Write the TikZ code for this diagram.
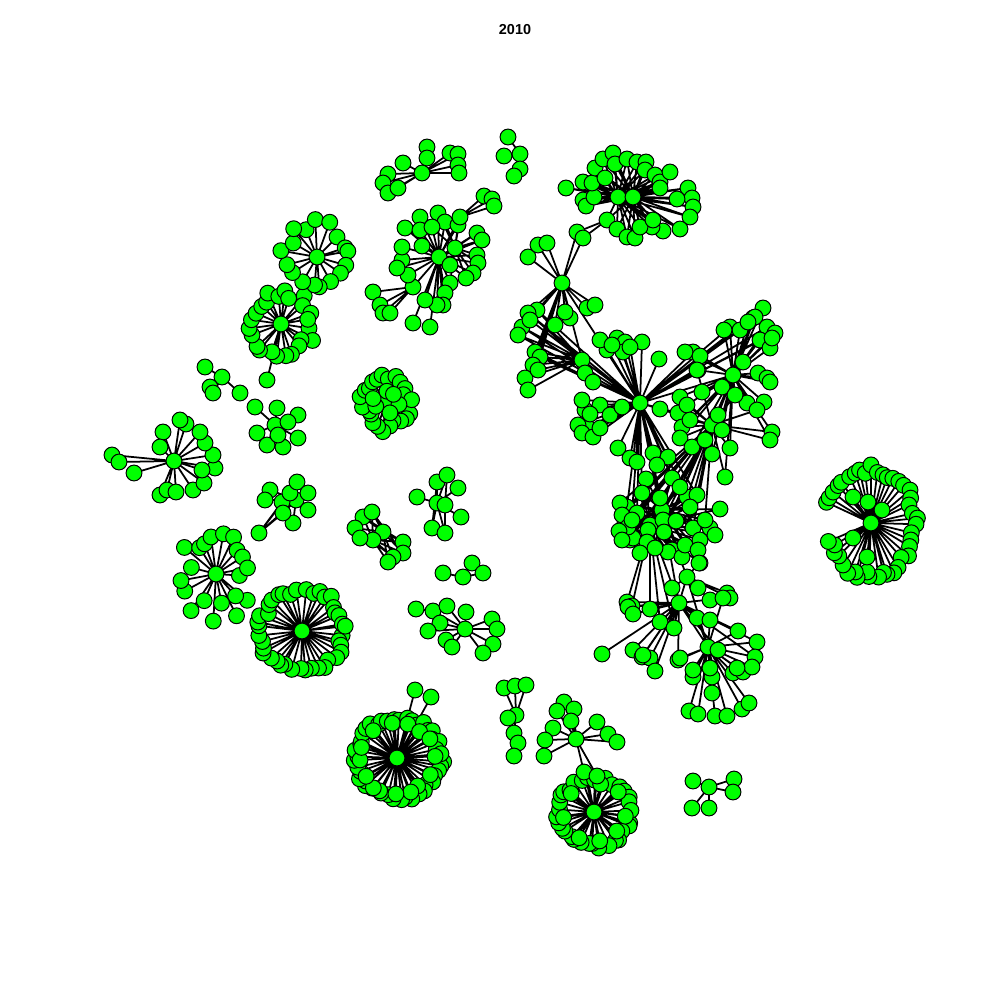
\documentclass[tikz,border=0pt]{standalone}
\usepackage{fontspec}
\newfontfamily\titlefont{Liberation Sans}
\definecolor{vgreen}{RGB}{0,255,0}
\pgfdeclarelayer{back}
\pgfdeclarelayer{bg}
\pgfsetlayers{back,bg,main}
\tikzset{
  vx/.style={circle,draw=black,fill=vgreen,line width=0.28pt,minimum size=4.5pt,inner sep=0pt},
  edge/.style={line width=0.5pt,black}
}
\gdef\edgelist{}
\newcommand\addedge[2]{\xdef\edgelist{\edgelist (#1.center)--(#2.center)}}
\newcommand\mkhub[3]{\node[vx] (#1) at (#2,#3) {};}
\newcommand\mklnk[2]{\addedge{#1}{#2}}
\newcommand\mkfan[3]{%
  \foreach \x/\y [count=\k] in {#3}{%
    \node[vx] (#2-\k) at (\x,\y) {};
    \addedge{#1}{#2-\k}%
  }}
\newcommand\mkfanto[3]{%
  \foreach \k in {1,...,#3}{\addedge{#1}{#2-\k}}}
\newcommand\mkring[8]{% hub, prefix, rx, ry, n, a0, a1, jitter
  \foreach \k in {1,...,#5}{%
    \pgfmathsetmacro\ang{#6+(#7-#6)*(\k-0.5+0.7*(rnd-0.5))/#5}
    \pgfmathsetmacro\fac{1+#8*(rnd-0.5)}
    \pgfmathsetmacro\dx{#3*\fac*cos(\ang)}
    \pgfmathsetmacro\dy{#4*\fac*sin(\ang)}
    \node[vx] (#2-\k) at ([shift={(\dx,\dy)}]#1) {};
    \addedge{#1}{#2-\k}%
  }}
\begin{document}
\begin{tikzpicture}[x=0.01cm,y=-0.01cm]
\pgfmathsetseed{11}
\begin{pgfonlayer}{back}
\fill[white] (0,0) rectangle (1000,1000);
\end{pgfonlayer}
\useasboundingbox (0,0) rectangle (1000,1000);
\node[font=\titlefont\bfseries\fontsize{4.1}{5}\selectfont] (title) at (515,30) {2010};

% A
\mkhub{A}{397}{758}
\mkring{A}{Aa}{43}{40}{44}{0}{360}{0.2}
\mkring{A}{Ab}{38}{36}{14}{10}{370}{0.12}
\mkfan{A}{Ac}{415/690,431/697}
% C and B
\mkhub{C}{576}{739}
\mkfan{C}{Cl}{564/702,557/711,574/709,571/721,553/728,545/740,544/756,597/722,608/734,617/742}
\mkhub{B}{594}{812}
\mkring{B}{Ba}{36}{34}{34}{0}{360}{0.15}
\mkring{B}{Bb}{31}{30}{8}{20}{380}{0.1}
\mkfan{C}{Bt}{584/772,597/776}
\mklnk{B}{Bt-1}\mklnk{B}{Bt-2}
% D
\mkhub{D}{871}{523}
\mkring{D}{Da}{44}{54}{42}{195}{525}{0.18}
\mkfan{D}{Db}{853/497,868/502,882/510,867/557,853/538}
% E
\mkhub{E}{302}{631}
\mkring{E}{Ea}{43}{40}{40}{0}{360}{0.22}
% F
\mkhub{F}{216}{574}
\mkring{F}{Fa}{30}{40}{20}{0}{360}{0.5}
% G
\mkhub{G}{174}{461}
\mkfan{G}{Gl}{112/455,119/462,134/473,160/495,167/490,176/492,193/490,204/483,215/468,213/455,205/443,200/432,186/424,180/420,163/432,160/447,202/470}
% H
\mkhub{H}{281}{324}
\mkring{H}{Ha}{30}{32}{24}{0}{360}{0.35}
\mkfan{H}{Hb}{267/380}
% I
\mkhub{I}{317}{257}
\mkring{I}{Ia}{32}{33}{17}{-120}{240}{0.3}
% J
\mkhub{J}{439}{257}
\mkhub{J2}{413}{287}
\mkfan{J}{Jl}{420/217,438/213,445/222,458/225,460/217,477/233,482/240,477/255,478/263,473/273,466/278,450/283,445/293,443/305,437/305,425/300,408/275,402/260,402/247,405/228,420/230,432/227,422/246,455/248,450/265,397/268,413/323,430/327}
\mkfan{J2}{Jm}{373/292,380/305,383/313,390/313}
\mklnk{J}{J2}
\mkfan{Jl-5}{Jn}{484/196,492/199,494/206}
\mkfanto{Jl-24}{Jl}{12}
% K
\mkhub{K}{422}{173}
\mkfan{K}{Kl}{427/147,427/158,450/153,458/154,458/165,459/173,403/163,388/174,383/183,388/193,398/188}
% L
\mkhub{L}{520}{154}
\mkfan{L}{Ll}{508/137,504/156,520/169,514/176}
% M
\mkhub{M1}{618}{197}
\mkhub{M2}{633}{197}
\mkfan{M1}{Ma}{566/188,583/200,586/206,594/197,583/182,592/183,595/168,603/159,613/153,605/178,615/164,607/220,617/229,627/237,635/238}
\mkfan{M2}{Mb}{627/159,637/162,646/162,645/170,655/175,660/182,670/172,688/188,692/198,677/199,693/207,690/217,680/229,663/231,652/227,640/227,660/188,653/220}
\mkfanto{M2}{Ma}{15}
\mkfanto{M1}{Mb}{18}
\mklnk{M1}{M2}
\mkfan{Ma-12}{Mc}{577/232,583/238}
% central component
\mkhub{c0}{562}{283}
\mkfan{c0}{c0l}{528/257,538/245,547/243,555/325,570/318,587/308,595/305,565/312}
\mklnk{c0}{Mc-1}\mklnk{c0}{Mc-2}
\mkhub{c1}{582}{360}
\mkfan{c1}{c1l}{537/310,528/313,522/327,518/335,535/352,540/357,533/365,525/378,528/390,585/373,593/382,530/320,538/370}
\mkfanto{c0}{c1l}{9}
\mkhub{c2}{640}{403}
\mkfan{c2}{c2l}{659/359,617/338,625/342,642/342,623/352,607/350,600/340,585/410,587/427,578/425,600/405,610/415,622/407,660/409,678/413,618/448,630/458,637/462,653/453,668/457,657/465,693/352,698/370,582/400,590/414,582/433,593/437,600/428,612/345,630/347}
\mkfanto{c2}{c1l}{6}
\mkhub{c3}{733}{375}
\mkfan{c3}{c3l}{753/318,763/308,755/317,730/327,740/330,767/327,775/333,760/340,770/348,743/362,722/387,758/373,767/378,770/382,747/403,702/392,685/352,724/330,764/402,700/356,748/322,772/338}
\mkhub{c4}{712}{425}
\mkfan{c4}{c4l}{680/397,687/405,682/427,680/438,692/447,722/430,730/448,712/454,725/477,772/432,770/440,757/410,735/395,697/370,705/440,690/420,718/415}
\mkfanto{c3}{c4l}{17}
\mkfanto{c2}{c3l}{8}
\mkhub{c5}{662}{510}
\mkhub{c5b}{650}{525}
\mkfan{c5}{c5l}{627/507,625/523,637/513,630/540,643/543,663/520,664/532,687/497,697/495,693/528,700/540,672/550,710/528,720/509,648/530,633/538,647/542,668/552,682/557,700/563,646/479,672/478,642/493,680/487}
\mkfan{c5b}{c5m}{620/503,622/515,628/527,619/531,640/553,655/548,690/507,705/520,715/535,660/498,676/521,632/520,685/545,698/550,622/540}
\mkfanto{c5b}{c5l}{24}
\mkfanto{c5}{c5m}{15}
\mkfanto{c2}{c5l}{12}
\mkfanto{c4}{c5l}{10}
\mkfanto{c4}{c5m}{8}
\mkhub{c6}{687}{577}
\mkfan{c6}{c6l}{699/563,698/588,727/593,730/598,710/600,672/588}
\mkhub{c7}{679}{603}
\mkfan{c7}{c7l}{627/602,632/606,650/609,660/622,674/628,602/654,633/650,642/657,650/658,655/671,628/607,633/614,643/655}
\mkhub{c8}{708}{647}
\mkfan{c8}{c8l}{697/618,710/620,723/598,738/631,757/642,755/657,718/650,678/660,693/677,712/677,733/673,743/672,752/667,737/668,710/668,693/670,680/658,712/693,689/711,698/714,715/716,727/716,742/709,749/703}
\mkfanto{c7}{c8l}{8}
\mkfanto{c5b}{c7l}{5}
\mklnk{c0}{c1}\mklnk{c1}{c2}\mklnk{c0}{c2}\mklnk{c2}{c3}\mklnk{c2}{c4}
\mklnk{c3}{c4}\mklnk{c2}{c5}\mklnk{c4}{c5}\mklnk{c5}{c6}\mklnk{c6}{c7}
\mklnk{c7}{c8}\mklnk{c5}{c7}\mklnk{c6}{c8}\mklnk{c5b}{c7}
% N
\mkhub{N}{386}{402}
\mkring{N}{Na}{23}{25}{24}{0}{360}{0.4}
\mkring{N}{Nb}{12}{12}{6}{0}{360}{0.3}
% small left groups
\mkhub{S1}{222}{377}
\mkfan{S1}{S1l}{205/367,240/393,210/387,213/393}
\mkhub{T2}{275}{425}
\mkfan{T2}{T2l}{255/407,277/408,298/415,288/422,257/433,267/445,283/447,278/435,298/438}
% O
\mkhub{O}{296}{500}
\mkfan{O}{Ol}{270/490,265/500,282/502,290/493,297/482,308/493,308/510,293/523,283/513,259/533}
\mklnk{Ol-10}{Ol-3}\mklnk{Ol-10}{Ol-9}\mklnk{Ol-10}{Ol-4}
% P
\mkhub{P1}{383}{532}
\mkhub{P2}{373}{540}
\mkfan{P1}{Pl}{363/517,372/512,355/528,360/538}
\mkfan{P2}{Pr}{403/542,403/553,393/557,388/562}
\mkfanto{P2}{Pl}{4}
\mkfanto{P1}{Pr}{4}
\mklnk{Pl-1}{Pr-1}\mklnk{Pl-2}{Pr-2}\mklnk{Pl-3}{Pr-3}
% Q
\mkhub{Q}{437}{503}
\mkfan{Q}{Ql}{417/497,437/482,447/475,458/488,445/505,461/517,432/528,445/533}
\mklnk{Ql-5}{Ql-3}\mklnk{Ql-5}{Ql-8}\mklnk{Ql-2}{Ql-7}
% U
\mkhub{U}{463}{577}
\mkfan{U}{Ul}{443/573,472/563,483/573}
\mklnk{Ul-2}{Ul-3}
% R
\mkhub{R}{465}{629}
\mkfan{R}{Rl}{433/611,447/606,466/612,440/623,428/631,446/640,452/647,492/619,497/629,493/644,483/653}
\mkfan{Rl-1}{Rm}{416/609}
% S
\mkhub{S}{516}{715}
\mkfan{S}{Sl}{504/688,515/686,526/685,508/718,514/733}
\mkfan{Sl-5}{Sm}{518/743,514/756}
% T
\mkhub{T}{709}{787}
\mkfan{T}{Tl}{693/781,734/779,733/792,692/808,709/808}
% all connectors, drawn beneath the vertices
\begin{pgfonlayer}{bg}
\draw[edge] \edgelist;
\end{pgfonlayer}
\end{tikzpicture}
\end{document}
